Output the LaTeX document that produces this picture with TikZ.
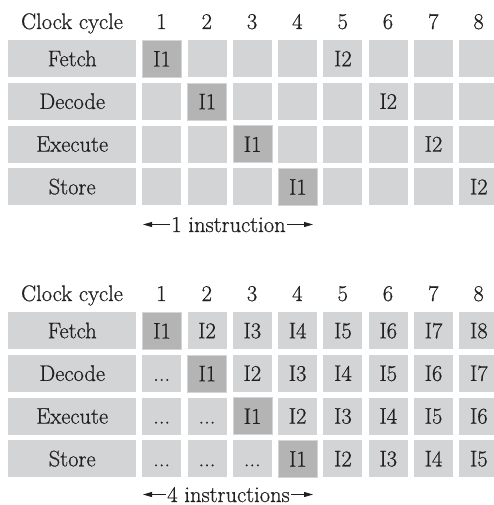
\documentclass[tikz,border=0pt]{standalone}
\usepackage{fontspec}
\newfontfamily\reffont{Latin Modern Roman}[FakeBold=0.7]
\usetikzlibrary{arrows.meta}
\definecolor{cellgray}{HTML}{D3D4D6}
\definecolor{darkgray2}{HTML}{B4B4B4}
\definecolor{inkc}{HTML}{231F20}
\begin{document}
\begin{tikzpicture}[x=1pt,y=-1pt,
  txt/.style={font=\reffont\fontsize{22.5}{26}\selectfont, text=inkc, inner sep=0pt},
  cell/.style={txt, rectangle, fill=cellgray, minimum width=39pt, minimum height=37pt,
    text height=15pt, text depth=0pt, anchor=north west},
  dark/.style={cell, fill=darkgray2, draw=cellgray, line width=1pt},
  lbl/.style={cell, minimum width=128pt},
  hdr/.style={txt, anchor=base},
  tip/.style={-{Triangle[length=9pt,width=5pt]}, line width=0.8pt, draw=inkc}]
\useasboundingbox (0,0) rectangle (493,505);
% ---------- diagram 1 ----------
\node[hdr] (a-h) at (72,29) {Clock cycle};
\foreach \c in {1,...,8} {
  \pgfmathsetmacro\tx{161.5+(\c-1)*45.3}
  \node[hdr] (a-h-\c) at (\tx,29) {\c};
}
\foreach \lab [count=\r] in {Fetch,Decode,Execute,Store} {
  \pgfmathsetmacro\ty{40+(\r-1)*42.7}
  \node[lbl] (a-lab-\r) at (8,\ty) {\lab};
  \foreach \c in {1,...,8} {
    \pgfmathsetmacro\tx{142+(\c-1)*45.3}
    \pgfmathtruncatemacro\k{\c-\r+1}
    \ifnum\k=1
      \node[dark] (a-\r-\c) at (\tx,\ty) {I1};
    \else\ifnum\k=5
      \node[cell] (a-\r-\c) at (\tx,\ty) {I2};
    \else
      \node[cell] (a-\r-\c) at (\tx,\ty) {};
    \fi\fi
  }
}
\node[hdr, inner sep=1.5pt] (a-ar) at (228.5,232) {1 instruction};
\coordinate (a-l) at (143,224.5);
\coordinate (a-r) at (313,224.5);
\draw[tip] (a-ar.west |- a-l) -- (a-l);
\draw[tip] (a-ar.east |- a-r) -- (a-r);
% ---------- diagram 2 ----------
\node[hdr] (b-h) at (72,301) {Clock cycle};
\foreach \c in {1,...,8} {
  \pgfmathsetmacro\tx{161.5+(\c-1)*45.3}
  \node[hdr] (b-h-\c) at (\tx,301) {\c};
}
\foreach \lab [count=\r] in {Fetch,Decode,Execute,Store} {
  \pgfmathsetmacro\ty{312+(\r-1)*42.7}
  \node[lbl] (b-lab-\r) at (8,\ty) {\lab};
  \foreach \c in {1,...,8} {
    \pgfmathsetmacro\tx{142+(\c-1)*45.3}
    \pgfmathtruncatemacro\k{\c-\r+1}
    \ifnum\k=1
      \node[dark] (b-\r-\c) at (\tx,\ty) {I1};
    \else\ifnum\k>1
      \node[cell] (b-\r-\c) at (\tx,\ty) {I\k};
    \else
      \node[cell] (b-\r-\c) at (\tx,\ty) {...};
    \fi\fi
  }
}
\node[hdr, inner sep=1.5pt] (b-ar) at (228.5,502) {4 instructions};
\coordinate (b-l) at (143,494.5);
\coordinate (b-r) at (313,494.5);
\draw[tip] (b-ar.west |- b-l) -- (b-l);
\draw[tip] (b-ar.east |- b-r) -- (b-r);
\end{tikzpicture}
\end{document}
